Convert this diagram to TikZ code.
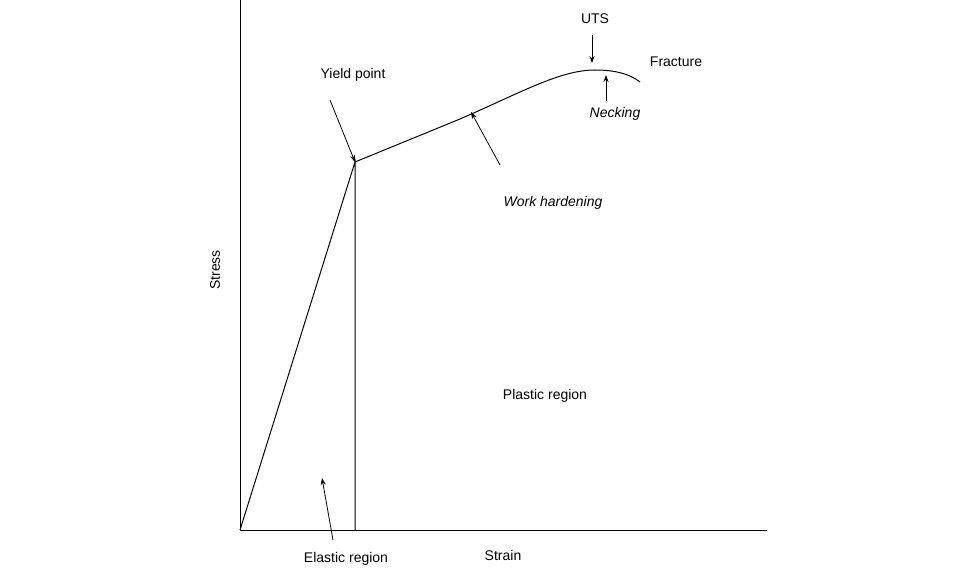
\documentclass[tikz,border=0pt]{standalone}
\usepackage{fontspec}
\setmainfont{Liberation Sans}
\usetikzlibrary{arrows.meta}
\begin{document}
\begin{tikzpicture}[x=1pt,y=-1pt,
  lbl/.style={font=\fontsize{14}{16}\selectfont},
  it/.style={lbl,font=\fontsize{14}{16}\selectfont\itshape},
  ar/.style={-{Stealth[length=7pt,width=5pt]},line width=0.8pt},
  ln/.style={line width=1pt}]
\useasboundingbox (0,0) rectangle (973,572);
\coordinate (top) at (240,0);
\coordinate (O) at (240,530);
\coordinate (xend) at (767,530);
\coordinate (Y) at (355,162);
\coordinate (Yb) at (355,530);
\coordinate (U) at (595,70);
\coordinate (F) at (640,82);
\draw[ln] (top) -- (O) -- (xend);
\draw[ln] (O) -- (Y) -- (Yb);
\draw[ln] (Y) -- (460,119) .. controls (520,93) and (560,70) .. (U) .. controls (615,70) and (630,74) .. (F);
\node[lbl] (yl) at (353,75) {Yield point};
\coordinate (ya) at (330,100);
\draw[ar] (ya) -- (Y);
\node[lbl] (ul) at (595,19) {UTS};
\coordinate (ua) at (592,35); \coordinate (ub) at (592,63);
\draw[ar] (ua) -- (ub);
\node[lbl] (fl) at (676,62) {Fracture};
\node[it] (nl) at (615,114) {Necking};
\coordinate (na) at (606,101); \coordinate (nb) at (606,75);
\draw[ar] (na) -- (nb);
\coordinate (wa) at (500,165); \coordinate (wb) at (471,112);
\draw[ar] (wa) -- (wb);
\node[it] (wl) at (553,203) {Work hardening};
\node[lbl,rotate=90] (sl) at (215,270) {Stress};
\node[lbl] (pl) at (545,396) {Plastic region};
\node[lbl] (el) at (346,559) {Elastic region};
\coordinate (ea) at (333,540); \coordinate (eb) at (322,478);
\draw[ar] (ea) -- (eb);
\node[lbl] (strl) at (503,555) {Strain};
\end{tikzpicture}
\end{document}
